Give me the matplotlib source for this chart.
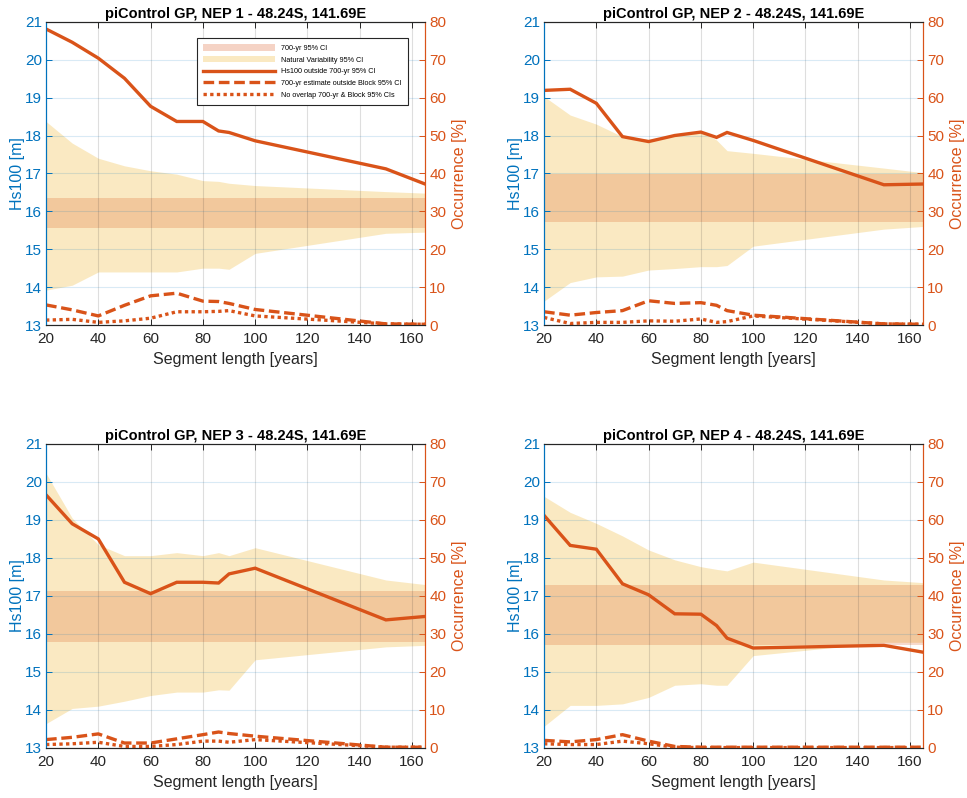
import matplotlib
matplotlib.use("Agg")
import matplotlib.pyplot as plt
from matplotlib.patches import Patch
from matplotlib.lines import Line2D

plt.rcParams["font.family"] = ["Liberation Sans", "DejaVu Sans"]

# segment lengths [years]
seg = [20, 30, 40, 50, 60, 70, 80, 86, 90, 100, 150, 165]

titles = [
    "piControl GP, NEP 1 - 48.24S, 141.69E",
    "piControl GP, NEP 2 - 48.24S, 141.69E",
    "piControl GP, NEP 3 - 48.24S, 141.69E",
    "piControl GP, NEP 4 - 48.24S, 141.69E",
]

# 700-yr 95% CI (Hs100 [m]): lower, upper
ci700 = [(15.55, 16.34), (15.73, 16.98), (15.78, 17.12), (15.70, 17.29)]

# natural variability 95% CI (Hs100 [m])
nv_lo = [
    [13.92, 14.05, 14.40, 14.40, 14.40, 14.40, 14.50, 14.50, 14.47, 14.89, 15.42, 15.45],
    [13.63, 14.12, 14.27, 14.29, 14.45, 14.49, 14.54, 14.54, 14.57, 15.08, 15.53, 15.60],
    [13.64, 14.04, 14.10, 14.23, 14.38, 14.47, 14.47, 14.53, 14.52, 15.32, 15.66, 15.70],
    [13.57, 14.12, 14.12, 14.16, 14.33, 14.65, 14.69, 14.65, 14.65, 15.43, 15.78, 15.78],
]
nv_hi = [
    [18.37, 17.80, 17.40, 17.20, 17.07, 16.98, 16.81, 16.79, 16.74, 16.68, 16.52, 16.48],
    [19.03, 18.54, 18.30, 17.97, 17.90, 17.99, 18.12, 17.88, 17.60, 17.53, 17.14, 17.02],
    [20.23, 19.05, 18.35, 18.06, 18.06, 18.14, 18.06, 18.14, 18.06, 18.27, 17.42, 17.30],
    [19.62, 19.20, 18.91, 18.58, 18.21, 17.95, 17.77, 17.70, 17.66, 17.89, 17.42, 17.35],
]

# occurrence [%]
occ_out = [
    [78.1, 74.6, 70.4, 65.1, 57.7, 53.7, 53.7, 51.2, 50.8, 48.6, 41.2, 37.2],
    [61.9, 62.2, 58.5, 49.7, 48.4, 50.0, 50.9, 49.5, 50.8, 48.7, 37.0, 37.2],
    [66.6, 59.0, 55.0, 43.6, 40.6, 43.6, 43.6, 43.4, 45.8, 47.3, 33.7, 34.6],
    [61.2, 53.3, 52.3, 43.2, 40.3, 35.3, 35.2, 32.2, 28.9, 26.3, 27.0, 25.2],
]
occ_block = [
    [5.3, 4.0, 2.4, 5.2, 7.7, 8.4, 6.3, 6.2, 5.7, 4.1, 0.3, 0.2],
    [3.5, 2.6, 3.3, 3.8, 6.4, 5.7, 5.9, 5.2, 3.8, 2.6, 0.3, 0.2],
    [2.2, 2.8, 3.7, 1.3, 1.3, 2.4, 3.5, 4.2, 3.8, 3.1, 0.2, 0.2],
    [2.0, 1.6, 2.2, 3.5, 1.8, 0.4, 0.2, 0.2, 0.2, 0.2, 0.2, 0.2],
]
occ_overlap = [
    [1.3, 1.5, 0.7, 1.1, 1.8, 3.5, 3.5, 3.6, 3.8, 2.4, 0.3, 0.2],
    [2.0, 0.4, 0.7, 0.7, 1.1, 1.0, 1.6, 0.7, 0.9, 2.4, 0.3, 0.2],
    [0.9, 1.1, 1.5, 0.4, 0.4, 0.9, 1.8, 1.8, 1.5, 2.2, 0.2, 0.2],
    [1.1, 0.9, 0.9, 1.8, 1.1, 0.2, 0.1, 0.1, 0.1, 0.1, 0.1, 0.1],
]

blue = (0.0, 0.447, 0.741)
orange = (0.85, 0.325, 0.098)
yellow = (0.929, 0.694, 0.125)
dark = "#262626"

positions = [
    (0.0476, 0.5927, 0.392, 0.380),
    (0.5626, 0.5927, 0.392, 0.380),
    (0.0476, 0.0627, 0.392, 0.381),
    (0.5626, 0.0627, 0.392, 0.381),
]

fig = plt.figure(figsize=(9.67, 7.98), dpi=100)

for i, pos in enumerate(positions):
    ax = fig.add_axes(pos)
    ax2 = ax.twinx()

    ax.fill_between(seg, nv_lo[i], nv_hi[i], color=yellow, alpha=0.27, lw=0)
    ax.fill_between([seg[0], seg[-1]], ci700[i][0], ci700[i][1],
                    color=orange, alpha=0.22, lw=0)

    ax2.plot(seg, occ_out[i], color=orange, lw=2.4, solid_joinstyle="miter")
    ax2.plot(seg, occ_block[i], color=orange, lw=2.4, ls=(0, (3.2, 1.4)),
             dash_capstyle="butt")
    ax2.plot(seg, occ_overlap[i], color=orange, lw=2.4, ls=(0, (1, 1)),
             dash_capstyle="butt")

    ax.set_xlim(20, 165)
    ax.set_ylim(13, 21)
    ax2.set_ylim(0, 80)
    ax.set_xticks(range(20, 161, 20))
    ax.set_yticks(range(13, 22))
    ax2.set_yticks(range(0, 81, 10))

    ax.set_axisbelow(False)
    ax.xaxis.grid(True, color=dark, alpha=0.15, lw=0.8)
    ax.yaxis.grid(True, color=blue, alpha=0.15, lw=0.8)

    ax.tick_params(axis="x", direction="in", top=True, length=4, width=0.7,
                   labelsize=11, colors=dark, pad=5)
    ax.tick_params(axis="y", direction="in", length=4, width=0.7,
                   labelsize=11, colors=blue, pad=3)
    ax2.tick_params(axis="y", direction="in", length=4, width=0.7,
                    labelsize=11, colors=orange, pad=3)

    for a in (ax, ax2):
        a.spines["top"].set_color(dark)
        a.spines["bottom"].set_color(dark)
        a.spines["left"].set_color(blue)
        a.spines["right"].set_color(orange)
        for s in a.spines.values():
            s.set_linewidth(0.8)

    ax.set_xlabel("Segment length [years]", fontsize=11.5, color=dark, labelpad=4.5)
    ax.set_ylabel("Hs100 [m]", fontsize=11.5, color=blue, labelpad=0)
    ax2.set_ylabel("Occurrence [%]", fontsize=11.5, color=orange, labelpad=4)
    ax.set_title(titles[i], fontsize=10.5, fontweight="bold", color="black", pad=3)

    if i == 0:
        handles = [
            Patch(facecolor=orange, alpha=0.25, edgecolor="none"),
            Patch(facecolor=yellow, alpha=0.27, edgecolor="none"),
            Line2D([], [], color=orange, lw=2.4),
            Line2D([], [], color=orange, lw=2.4, ls=(0, (3.2, 1.4)), dash_capstyle="butt"),
            Line2D([], [], color=orange, lw=2.4, ls=(0, (1, 1)), dash_capstyle="butt"),
        ]
        labels = [
            "700-yr 95% CI",
            "Natural Variability 95% CI",
            "Hs100 outside 700-yr 95% CI",
            "700-yr estimate outside Block 95% CI",
            "No overlap 700-yr & Block 95% CIs",
        ]
        leg = ax2.legend(handles, labels, loc="upper right",
                         bbox_to_anchor=(0.955, 0.947), borderaxespad=0,
                         fontsize=5.2, handlelength=10, handleheight=1.0,
                         labelspacing=0.55, handletextpad=0.8, borderpad=0.9,
                         fancybox=False, framealpha=1, edgecolor=dark)
        leg.get_frame().set_linewidth(0.8)

fig.savefig("out.png", dpi=100)
